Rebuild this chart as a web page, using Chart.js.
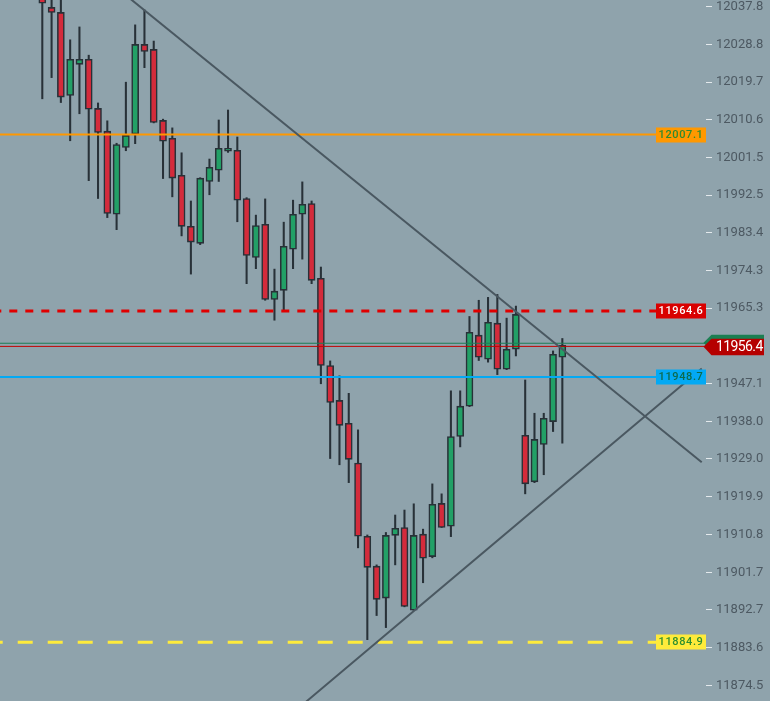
<!DOCTYPE html>
<html><head><meta charset="utf-8">
<script src="https://cdn.jsdelivr.net/npm/chart.js@4/dist/chart.umd.min.js"></script>
<style>html,body{margin:0;padding:0;background:#8fa3ac;overflow:hidden}canvas{display:block}</style>
</head><body>
<canvas id="c" width="770" height="701"></canvas>
<script>
// ---- data ----
const opens  = [12040.2,12037.7,12036.5,12016.5,12024.0,12025.2,12013.4,12007.9,11987.9,12004.0,12007.2,12028.8,12027.6,12010.5,12006.2,11997.3,11985.0,11980.9,11995.8,11998.5,12003.1,12003.3,11991.7,11977.5,11985.5,11967.4,11969.6,11979.5,11987.9,11990.5,11972.5,11951.5,11943.1,11937.6,11928.0,11910.4,11903.2,11895.5,11910.6,11912.5,11892.6,11910.9,11905.5,11918.3,11912.8,11934.4,11941.7,11958.8,11953.0,11961.7,11950.6,11955.4,11934.7,11923.5,11932.5,11938.0,11953.5];
const highs  = [12041.4,12040.7,12040.2,12029.9,12033.0,12026.2,12014.7,12010.4,12005.0,12019.7,12033.5,12037.1,12029.6,12010.8,12008.7,12002.7,11991.1,11996.7,12001.2,12010.6,12013.0,12006.5,11991.9,11987.7,11991.6,11974.7,11986.0,11991.3,11995.7,11991.1,11975.2,11952.6,11949.0,11944.8,11936.0,11910.7,11903.5,11911.3,11915.5,11916.7,11918.2,11912.1,11923.0,11920.6,11945.4,11945.4,11963.3,11967.2,11967.9,11968.6,11962.9,11965.8,11948.0,11940.0,11940.0,11955.0,11958.0];
const lows   = [12015.7,12020.8,12014.8,12005.6,12012.1,11996.0,11991.7,11987.1,11984.2,12003.2,12004.9,12023.2,12009.9,11996.5,11992.1,11982.7,11973.5,11980.6,11992.6,11995.8,12002.8,11986.1,11971.2,11974.8,11967.2,11962.4,11964.8,11974.8,11977.1,11971.2,11947.1,11929.1,11927.6,11923.3,11907.6,11885.5,11891.3,11888.4,11903.5,11893.4,11892.5,11899.2,11905.2,11912.5,11910.3,11931.9,11941.6,11952.7,11952.3,11949.3,11950.5,11953.8,11920.6,11923.3,11925.2,11935.6,11932.8];
const closes = [12038.7,12036.5,12016.1,12025.2,12025.2,12013.2,12007.6,11988.1,12004.7,12006.9,12028.8,12027.1,12010.0,12005.5,11996.6,11985.0,11981.2,11996.6,11999.2,12003.8,12003.8,11991.3,11978.0,11985.2,11967.4,11969.4,11980.2,11987.9,11990.3,11972.0,11951.5,11942.6,11937.1,11928.9,11910.4,11902.9,11895.2,11910.6,11912.3,11893.5,11910.6,11905.1,11918.1,11912.5,11934.4,11941.7,11959.5,11953.5,11961.9,11950.6,11955.4,11963.8,11923.0,11933.7,11938.8,11954.2,11956.4];

const tickValues = [12037.8,12028.8,12019.7,12010.6,12001.5,11992.5,11983.4,11974.3,11965.3,11947.1,11938.0,11929.0,11919.9,11910.8,11901.7,11892.7,11883.6,11874.5];
const tickLabels = ['12037.8','12028.8','12019.7','12010.6','12001.5','11992.5','11983.4','11974.3','11965.3','11947.1','11938.0','11929.0','11919.9','11910.8','11901.7','11892.7','11883.6','11874.5'];

const levelValues = [12007.1, 11964.6, 11948.7, 11884.9];
const levelLabels = ['12007.1','11964.6','11948.7','11884.9'];

const lastPrice = 11956.4;
const lastPriceLabel = '11956.4';
const askLine = 11956.85;
const bidLine = 11956.1;

const downTrendX = [8, 71.01];
const downTrendY = [12042.45, 11928.2];
const upTrendX = [27, 71.01];
const upTrendY = [11867.9, 11950.8];

// ---- view ----
const X_MIN = -4.555, X_MAX = 71.47;
const Y_MIN = 11870.73, Y_MAX = 12039.485;
const BG = '#8fa3ac';
const UP = '#22a066', DOWN = '#d42b3b', OUTLINE = '#283138';
const TEXT = '#4d5962';

const idx = opens.map((_, i) => i);
const isUp = idx.map(i => closes[i] >= opens[i]);

const levelStyle = [
  {color:'#ff9800', width:2, dash:[], off:0, bg:'#ff9800', fg:'#2f8a2f'},
  {color:'#e00000', width:3, dash:[8,8], off:6.7, bg:'#d90000', fg:'#ffffff'},
  {color:'#03a9f4', width:2, dash:[], off:0, bg:'#03a9f4', fg:'#0d6a4c'},
  {color:'#ffeb3b', width:3, dash:[15,15], off:12.3, bg:'#ffeb3b', fg:'#2f8f2f'}
];

const hline = (v, color, width, dash, off, order) => ({
  type:'line', data:[{x:X_MIN,y:v},{x:X_MAX,y:v}], borderColor:color, borderWidth:width,
  borderDash:dash, borderDashOffset:off, pointRadius:0, order:order, clip:0, tension:0
});

const datasets = [
  {type:'bar', data: idx.map(i => ({x:i, y:[opens[i], closes[i]]})),
   backgroundColor: isUp.map(u => u ? UP : DOWN), borderColor: OUTLINE, borderWidth:1.6,
   borderSkipped:false, barThickness:7, grouped:false, order:0},
  {type:'bar', data: idx.map(i => ({x:i, y:[lows[i], highs[i]]})),
   backgroundColor: OUTLINE, borderWidth:0, barThickness:1.4, grouped:false, order:1},
  hline(askLine, '#1e7d55', 1, [], 0, -1),
  hline(bidLine, '#c40000', 1, [], 0, -1),
  ...levelValues.map((v,k) => hline(v, levelStyle[k].color, levelStyle[k].width, levelStyle[k].dash, levelStyle[k].off, -2)),
  {type:'line', data: downTrendX.map((x,k)=>({x, y:downTrendY[k]})), borderColor:'#4a5861', borderWidth:2, pointRadius:0, order:-3, clip:0},
  {type:'line', data: upTrendX.map((x,k)=>({x, y:upTrendY[k]})), borderColor:'#4a5861', borderWidth:2, pointRadius:0, order:-3, clip:0}
];

const overlay = {
  id:'overlay',
  beforeDraw(chart){ const c = chart.ctx; c.save(); c.fillStyle = BG; c.fillRect(0,0,chart.width,chart.height); c.restore(); },
  afterDatasetsDraw(chart){
    const ctx = chart.ctx, ys = chart.scales.y, r = chart.chartArea.right;
    ctx.save();
    levelValues.forEach((v,k) => {
      const py = Math.round(ys.getPixelForValue(v));
      ctx.fillStyle = levelStyle[k].bg;
      ctx.fillRect(r - 50, py - 7.5, 50, 15);
      ctx.fillStyle = levelStyle[k].fg;
      ctx.font = '500 11px Roboto';
      ctx.textAlign = 'center'; ctx.textBaseline = 'middle';
      try { ctx.letterSpacing = '0.6px'; } catch(e){}
      ctx.fillText(levelLabels[k], r - 25, py + 0.5);
    });
    ctx.restore();
  },
  afterDraw(chart){
    const ctx = chart.ctx, ys = chart.scales.y, r = chart.chartArea.right;
    const cy = ys.getPixelForValue(bidLine) + 0.3;
    const x0 = r - 2.5, x1 = chart.width - 6;
    const tag = (y, col) => {
      ctx.fillStyle = col; ctx.beginPath();
      ctx.moveTo(x0, y); ctx.lineTo(x0 + 8, y - 8); ctx.lineTo(x1, y - 8);
      ctx.lineTo(x1, y + 8.5); ctx.lineTo(x0 + 8, y + 8.5); ctx.closePath(); ctx.fill();
    };
    ctx.save();
    tag(cy - 4, '#1b7f52');
    tag(cy, '#b50000');
    ctx.fillStyle = '#ffffff';
    ctx.font = '14px Roboto';
    try { ctx.letterSpacing = '-0.6px'; } catch(e){}
    ctx.textAlign = 'left'; ctx.textBaseline = 'middle';
    ctx.fillText(lastPriceLabel, r + 10, cy + 1);
    ctx.restore();
  }
};

new Chart(document.getElementById('c'), {
  type:'bar',
  data:{datasets},
  options:{
    responsive:false, animation:false, devicePixelRatio:1,
    layout:{padding:0},
    plugins:{legend:{display:false}, tooltip:{enabled:false}},
    scales:{
      x:{type:'linear', display:false, min:X_MIN, max:X_MAX, offset:false},
      y:{type:'linear', position:'right', min:Y_MIN, max:Y_MAX,
         border:{display:false},
         grid:{drawOnChartArea:false, drawTicks:true, tickLength:6, color:'#e3e9ec', lineWidth:1},
         afterBuildTicks(scale){ scale.ticks = tickValues.map(v => ({value:v})); },
         afterFit(scale){ scale.width = 64; scale.paddingTop = 0; scale.paddingBottom = 0; },
         ticks:{autoSkip:false, padding:4, color:TEXT, font:{family:'Roboto', size:13},
                callback:(v) => { const k = tickValues.indexOf(v); return k >= 0 ? tickLabels[k] : ''; }}
      }
    }
  },
  plugins:[overlay]
});
</script>
</body></html>
